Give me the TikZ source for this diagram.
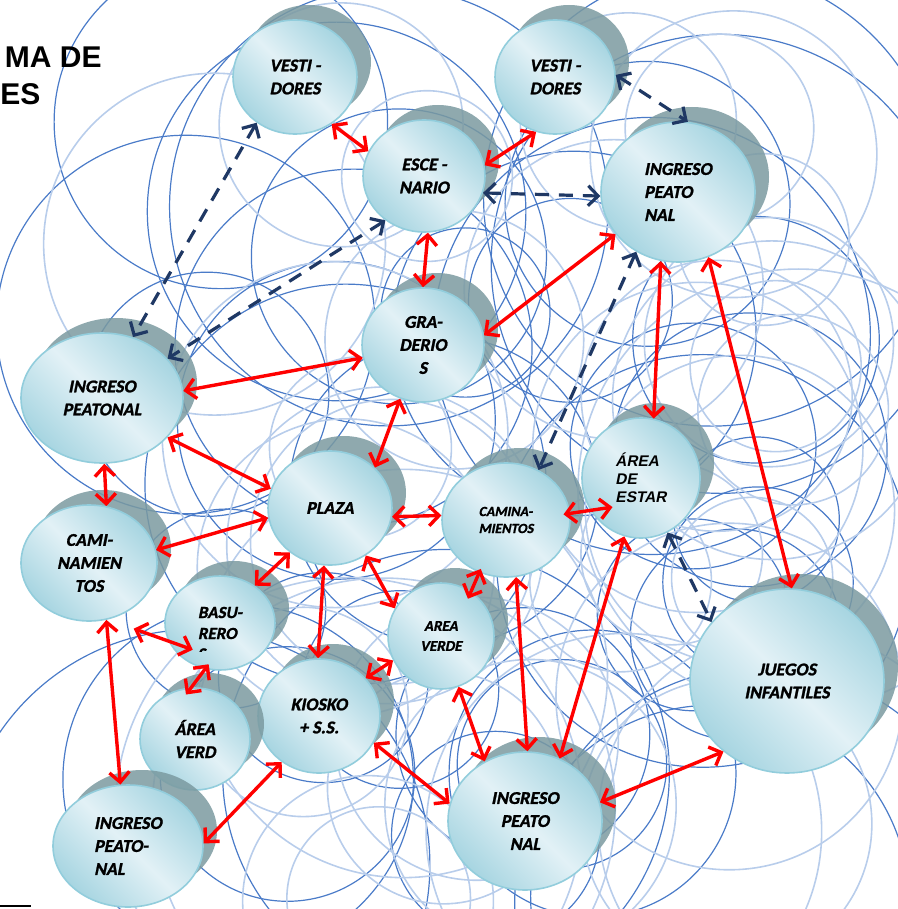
\documentclass[tikz,border=0pt]{standalone}
\usepackage{fontspec}
\newfontfamily\carlito{Carlito}[ItalicFont={Carlito}, ItalicFeatures={FakeSlant=0.2},
  BoldItalicFont={Carlito/B}, BoldItalicFeatures={FakeSlant=0.2, FakeBold=1.2}]
\newfontfamily\arialf{Liberation Sans}[ItalicFont={Liberation Sans}, ItalicFeatures={FakeSlant=0.2},
  BoldItalicFont={Liberation Sans/B}, BoldItalicFeatures={FakeSlant=0.2}]
\usetikzlibrary{arrows.meta,shapes.geometric,shadows}
\definecolor{ringdark}{HTML}{4A7BC8}
\definecolor{ringlight}{HTML}{B8CDEB}
\definecolor{sombra}{HTML}{7B9AA0}
\definecolor{salaborde}{HTML}{92CDDC}
\definecolor{salaoscuro}{HTML}{A7D5E1}
\definecolor{salaclaro}{HTML}{E2F1F6}
\definecolor{navy}{HTML}{1F3864}
\tikzset{
  sala/.style={ellipse, draw=salaborde, line width=0.8pt, inner sep=0pt,
    top color=salaoscuro, bottom color=salaoscuro, middle color=salaclaro,
    shading angle=-45,
    general shadow={fill=sombra, opacity=0.85, shadow xshift=7pt, shadow yshift=7.5pt},
    font=\carlito\bfseries\itshape\fontsize{9}{11.5}\selectfont, align=center},
  rel/.style={<->, red, line width=1.7pt},
  aux/.style={<->, navy, line width=1.6pt, dash pattern=on 7pt off 5pt},
  ring/.style={line width=0.6pt}
}
\begin{document}
\begin{tikzpicture}[x=0.5pt, y=-0.5pt, >={Straight Barb[length=5pt,width=10pt]}]
  \useasboundingbox (0,0) rectangle (898,909);
  \begin{scope}
    \clip (0,0) rectangle (898,909);
    \pgfmathsetseed{2718}
    \foreach \k in {1,...,38}{
      \pgfmathsetmacro\cx{180+620*rnd}
      \pgfmathsetmacro\cy{120+800*rnd}
      \pgfmathsetmacro\cr{80+160*rnd}
      \draw[ring, ringdark] (\cx,\cy) circle[radius=\cr];
    }
    \foreach \k in {1,...,38}{
      \pgfmathsetmacro\cx{180+620*rnd}
      \pgfmathsetmacro\cy{120+800*rnd}
      \pgfmathsetmacro\cr{80+160*rnd}
      \draw[ring, ringlight, line width=0.8pt] (\cx,\cy) circle[radius=\cr];
    }
  \end{scope}

  \node[font=\arialf\bfseries\fontsize{15}{17}\selectfont, anchor=base east, inner sep=0pt] (tit1) at (102,68) {MA DE};
  \node[font=\arialf\bfseries\fontsize{15}{17}\selectfont, anchor=base west, inner sep=0pt] (tit2) at (0,105) {ES};
  \draw[line width=1pt] (0,906) -- (31,906);

  \node[sala, minimum width=62pt, minimum height=57pt] (v1) at (295,77) {VESTI -\\DORES};
  \node[sala, minimum width=60pt, minimum height=57pt] (v2) at (555,77) {VESTI -\\DORES};
  \node[sala, minimum width=61pt, minimum height=56pt] (esc) at (424,176) {ESCE -\\NARIO};
  \node[sala, minimum width=77pt, minimum height=70pt, align=left] (ipr) at (678,192) {INGRESO\\PEATO\\NAL};
  \node[sala, minimum width=61pt, minimum height=57pt] (gra) at (423,345) {GRA-\\DERIO\\S};
  \node[sala, minimum width=81pt, minimum height=65pt] (ipl) at (102,398) {INGRESO\\PEATONAL};
  \node[sala, minimum width=68pt, minimum height=58pt] (cam) at (89,563) {CAMI-\\NAMIEN\\TOS};
  \node[sala, minimum width=62pt, minimum height=57pt] (plaza) at (330,508) {PLAZA};
  \node[sala, minimum width=64pt, minimum height=57pt, align=left,
    font=\carlito\bfseries\itshape\fontsize{7}{8.5}\selectfont] (cmn) at (506,520) {CAMINA-\\MIENTOS};
  \node[sala, minimum width=59pt, minimum height=60pt, align=left,
    font=\arialf\bfseries\itshape\fontsize{7.7}{9}\selectfont] (est) at (641,478) {ÁREA\\DE\\ESTAR};
  \node[sala, minimum width=97pt, minimum height=92pt] (jue) at (787,681) {JUEGOS\\INFANTILES};
  \node[sala, minimum width=55pt, minimum height=47pt, align=left,
    font=\carlito\bfseries\itshape\fontsize{8.5}{10.5}\selectfont] (bas) at (220,623) {BASU-\\RERO};
  \begin{scope}
    \clip (190,640) rectangle (230,651);
    \node[font=\carlito\bfseries\itshape\fontsize{8.5}{10.5}\selectfont, anchor=west, inner sep=0pt] (basS) at (197,654) {S};
  \end{scope}
  \node[sala, minimum width=53pt, minimum height=53pt,
    font=\carlito\bfseries\itshape\fontsize{7.5}{10}\selectfont] (av) at (441,636) {AREA\\VERDE};
  \node[sala, minimum width=61pt, minimum height=57pt] (kio) at (319,716) {KIOSKO\\+ S.S.};
  \node[sala, minimum width=55pt, minimum height=51pt] (avd) at (195,739) {ÁREA\\VERD};
  \node[sala, minimum width=75pt, minimum height=61pt, align=left] (ipbl) at (128,846) {INGRESO\\PEATO-\\NAL};
  \node[sala, minimum width=77pt, minimum height=69pt] (ipb) at (525,821) {INGRESO\\PEATO\\NAL};

  \draw[aux] (v1.-130) -- (ipl.63);
  \draw[aux] (esc.-131) -- (ipl.31);
  \draw[aux] (esc.-16) -- (ipr.-177);
  \draw[aux] (v2.2) -- (ipr.82);
  \draw[aux] (ipr.-125) -- (cmn.57);
  \draw[aux] (est.-64) -- (jue.142);

  \draw[rel] (v1.-52) -- (esc.156);
  \draw[rel] (v2.-109) -- (esc.10);
  \draw[rel] (esc.-86) -- (gra.90);
  \draw[rel] (ipr.-146) -- (gra.9);
  \draw[rel] (gra.-168) -- (ipl.5);
  \draw[rel] (gra.-113) -- (plaza.42);
  \draw[rel] (ipl.-31) -- (plaza.162);
  \draw[rel] (ipl.-88) -- (cam.73);
  \draw[rel] (cam.11) -- (plaza.-171);
  \draw[rel] (plaza.-8) -- (cmn.176);
  \draw[rel] ([xshift=-3.5pt]cmn.5) -- ([xshift=12pt]est.-151);
  \draw[rel] (ipr.-104) -- (est.78);
  \draw[rel] (ipr.-65) -- (jue.87);
  \draw[rel] (plaza.-132) -- (bas.47);
  \draw[rel] (plaza.-96) -- (kio.91);
  \draw[rel] (plaza.-53) -- (av.149);
  \draw[rel] ([yshift=-10.5pt]cam.-45) -- ([xshift=9.5pt]bas.-150);
  \draw[rel] (cam.-73) -- (ipbl.97);
  \draw[rel, shorten <=-3pt, shorten >=-4.5pt] (bas.-108) -- (avd.94);
  \draw[rel, shorten <=-2pt, shorten >=-4pt] (cmn.-117) -- (av.56);
  \draw[rel] (av.-153) -- (kio.39);
  \draw[rel] (av.-71) -- (ipb.124);
  \draw[rel] (cmn.-80) -- (ipb.88);
  \draw[rel] (est.-106) -- (ipb.61);
  \draw[rel] (kio.-26) -- (ipb.167);
  \draw[rel] (kio.-129) -- (ipbl.2);
  \draw[rel] (jue.-132) -- (ipb.14);
\end{tikzpicture}
\end{document}
